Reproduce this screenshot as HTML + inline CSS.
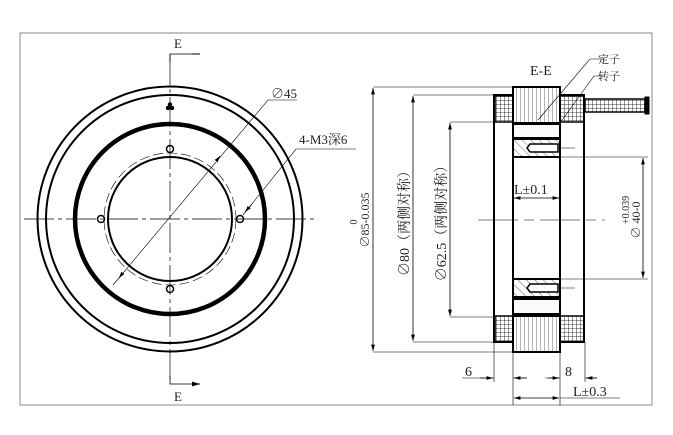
<!DOCTYPE html>
<html><head><meta charset="utf-8"><style>
body{margin:0;background:#fff}
svg{display:block}
text{font-family:"Liberation Serif","Noto Serif CJK SC",serif;fill:#222}
</style></head><body>
<svg width="673" height="435" viewBox="0 0 673 435" xmlns="http://www.w3.org/2000/svg">
<defs>
<pattern id="grid" width="4" height="4" patternUnits="userSpaceOnUse"><path d="M0 0H4M0 0V4" stroke="#000" stroke-width="0.8"/></pattern>
<pattern id="vl" width="4" height="4" patternUnits="userSpaceOnUse"><path d="M0 0V4" stroke="#000" stroke-width="0.6"/></pattern>
<pattern id="hatch" width="6" height="6" patternUnits="userSpaceOnUse" patternTransform="rotate(-45)"><path d="M0 0V6" stroke="#000" stroke-width="0.6"/></pattern>
<marker id="ar" viewBox="0 0 10 6" refX="10" refY="3" markerWidth="8" markerHeight="5" orient="auto-start-reverse"><path d="M0 0L10 3L0 6z" fill="#000"/></marker>
</defs>
<rect x="20" y="33" width="632" height="372" fill="none" stroke="#888" stroke-width="1"/>
<g fill="none" stroke="#000">
<circle cx="170" cy="219" r="132.5" stroke-width="2"/>
<circle cx="170" cy="219" r="124" stroke-width="2"/>
<circle cx="170" cy="219" r="95" stroke-width="4.5"/>
<circle cx="170" cy="219" r="62" stroke-width="2"/>
<circle cx="170" cy="219" r="66" stroke-width="0.6" stroke-dasharray="10 4"/>
<circle cx="170" cy="149" r="3.5" stroke-width="1.5"/>
<circle cx="170" cy="289" r="3.5" stroke-width="1.5"/>
<circle cx="101" cy="219" r="3.5" stroke-width="1.5"/>
<circle cx="240" cy="219" r="3.5" stroke-width="1.5"/>
<path d="M24 219H317M170 55V383" stroke-width="0.7" stroke-dasharray="30 4 4 4"/>
<path d="M170 62V54H192M170 376V384H192" stroke-width="0.8"/>
<path d="M192 54H200M192 384H200" stroke-width="1" marker-end="url(#ar)"/>
<path d="M113 285L268 100H297" stroke-width="0.6"/>
<path d="M217 160L220 156" stroke-width="0.8" marker-end="url(#ar)"/>
<path d="M122 274L119 278" stroke-width="0.8" marker-end="url(#ar)"/>
<path d="M243 215L296 149H356" stroke-width="0.6"/>
<path d="M252 204L245 212" stroke-width="0.8" marker-end="url(#ar)"/>
</g>
<circle cx="168" cy="108" r="2.2"/><circle cx="172" cy="108" r="2.2"/><circle cx="170" cy="104.5" r="2.2"/>
<text x="174" y="48" font-size="13">E</text>
<text x="174" y="401" font-size="13">E</text>
<text x="271" y="98" font-size="13">∅45</text>
<text x="299" y="144" font-size="13">4-M3深6</text>
<g stroke="#000">
<rect x="494" y="95" width="90" height="247" fill="none" stroke-width="2"/>
<rect x="495" y="96" width="18" height="26" fill="url(#grid)" stroke-width="1.5"/>
<rect x="560" y="96" width="24" height="26" fill="url(#grid)" stroke-width="1.5"/>
<rect x="495" y="316" width="18" height="26" fill="url(#grid)" stroke-width="1.5"/>
<rect x="560" y="316" width="24" height="26" fill="url(#grid)" stroke-width="1.5"/>
<rect x="513" y="87" width="47" height="265" fill="#fff" stroke-width="2"/>
<rect x="513" y="87" width="47" height="36" fill="url(#vl)" stroke-width="2"/>
<rect x="513" y="316" width="47" height="36" fill="url(#vl)" stroke-width="2"/>
<rect x="513" y="124" width="47" height="14" fill="#fafafa" stroke-width="2"/>
<rect x="513" y="139" width="47" height="18" fill="url(#hatch)" stroke-width="2"/>
<rect x="513" y="279" width="47" height="18" fill="url(#hatch)" stroke-width="2"/>
<rect x="513" y="299" width="47" height="15" fill="#fafafa" stroke-width="2"/>
<path d="M530 144H558V152H530L527 148Z" fill="#fff" stroke-width="1.5"/>
<path d="M530 284H558V292H530L527 288Z" fill="#fff" stroke-width="1.5"/>
<rect x="585" y="99" width="62" height="13" fill="url(#grid)" stroke-width="1.5"/>
<rect x="645" y="97" width="4" height="17" fill="#000"/>
</g>
<g fill="none" stroke="#000" stroke-width="0.6">
<path d="M478 220H605" stroke-dasharray="40 6 10 6"/>
<path d="M373 87H513M413 95H494M450 122H494M560 157H648M560 279H648M560 148H575M560 288H575"/>
<path d="M373 352H513M413 342H494M450 317H494"/>
<path d="M494 342V382M513 352V405M560 352V405M585 342V382"/>
<path d="M538 120L590 59H605M560 123L594 76H605"/>
<path d="M462 378H494M513 378H525M545 378H560M585 378H597M560 398H620"/>
</g>
<g fill="none" stroke="#000" stroke-width="0.8">
<path d="M373 220V88" marker-end="url(#ar)"/><path d="M373 220V351" marker-end="url(#ar)"/>
<path d="M413 220V96" marker-end="url(#ar)"/><path d="M413 220V341" marker-end="url(#ar)"/>
<path d="M450 220V123" marker-end="url(#ar)"/><path d="M450 220V316" marker-end="url(#ar)"/>
<path d="M643 220V158" marker-end="url(#ar)"/><path d="M643 220V278" marker-end="url(#ar)"/>
<path d="M536 198H514" marker-end="url(#ar)"/><path d="M536 198H559" marker-end="url(#ar)"/>
<path d="M480 378H493" marker-end="url(#ar)"/><path d="M527 378H514" marker-end="url(#ar)"/>
<path d="M548 378H559" marker-end="url(#ar)"/><path d="M597 378H586" marker-end="url(#ar)"/>
<path d="M536 398H514" marker-end="url(#ar)"/><path d="M536 398H559" marker-end="url(#ar)"/>
</g>
<text x="530" y="75" font-size="14">E-E</text>
<text x="598" y="63" font-size="11">定子</text>
<text x="598" y="80" font-size="11">转子</text>
<text x="514" y="194" font-size="14">L±0.1</text>
<text x="465" y="376" font-size="14">6</text>
<text x="565" y="376" font-size="14">8</text>
<text x="573" y="396" font-size="14">L±0.3</text>
<text transform="translate(369,220) rotate(-90)" font-size="12" text-anchor="middle">∅85-0.035</text>
<text transform="translate(357,222) rotate(-90)" font-size="10" text-anchor="middle">0</text>
<text transform="translate(409,220) rotate(-90)" font-size="14" text-anchor="middle">∅80（两侧对称）</text>
<text transform="translate(446,220) rotate(-90)" font-size="14" text-anchor="middle">∅62.5（两侧对称）</text>
<text transform="translate(640,220) rotate(-90)" font-size="12" text-anchor="middle">∅ 40-0</text>
<text transform="translate(629,210) rotate(-90)" font-size="10" text-anchor="middle">+0.039</text>
</svg>
</body></html>
